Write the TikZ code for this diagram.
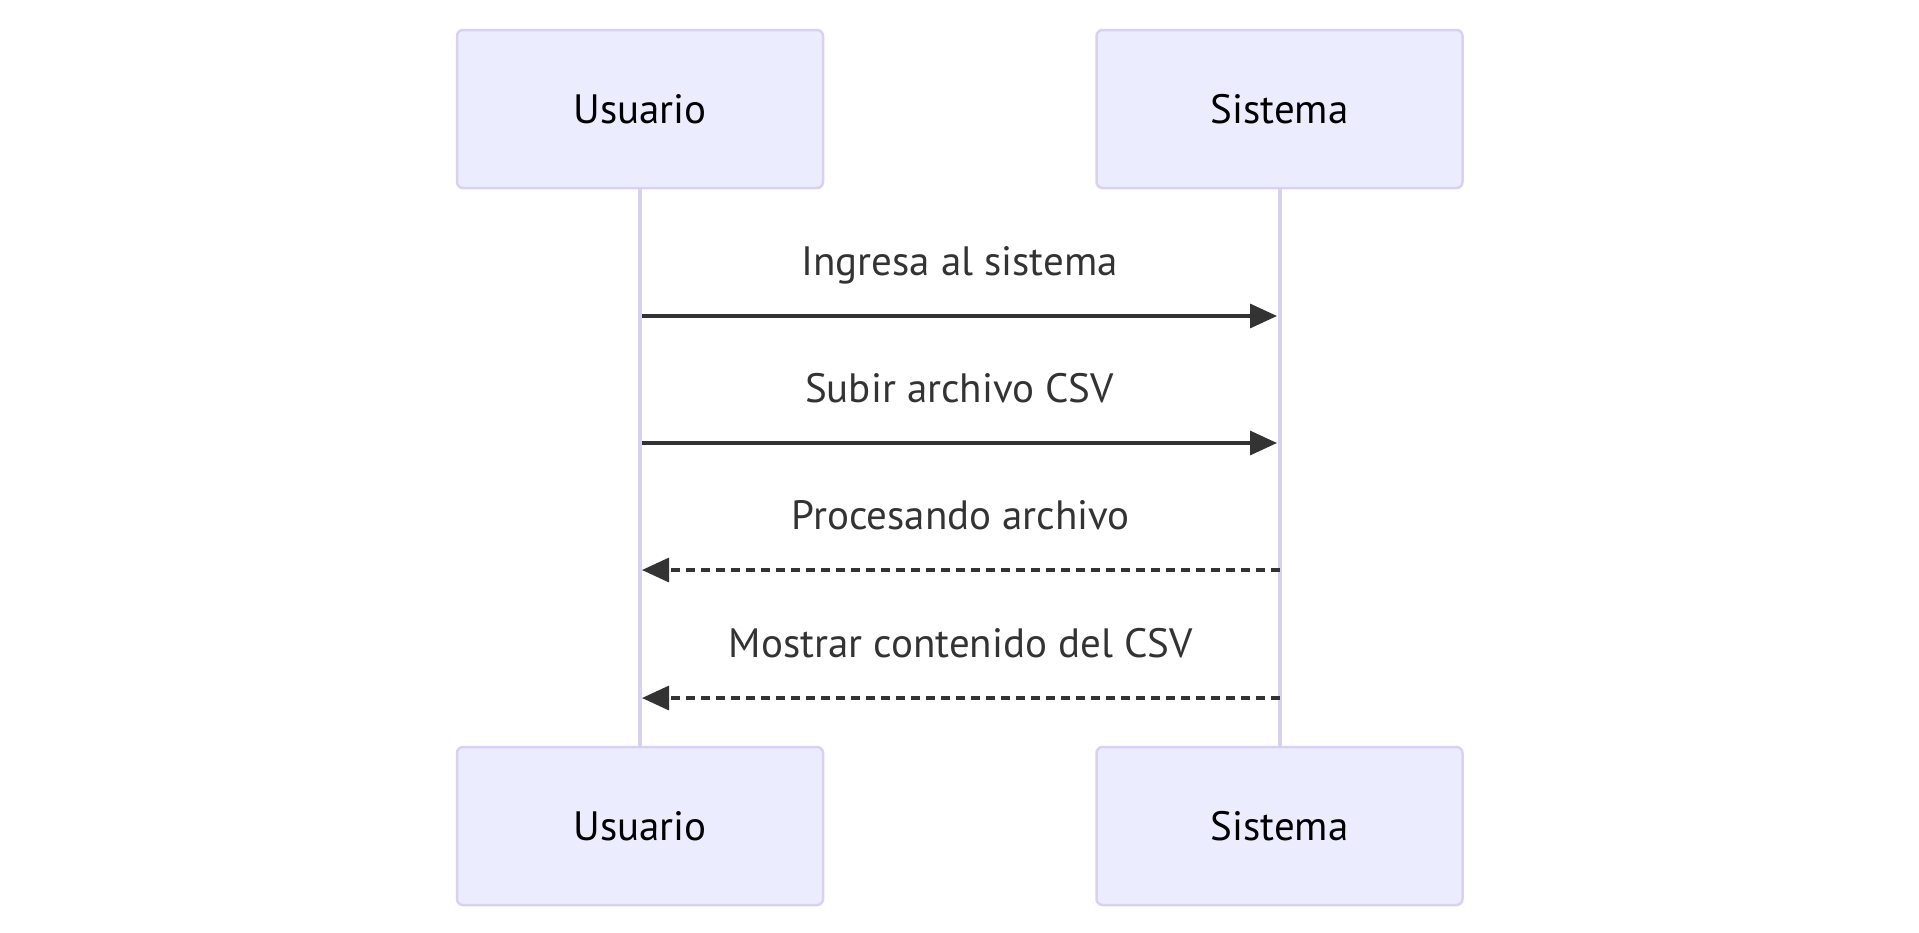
\documentclass[tikz,border=0pt]{standalone}
\usepackage{fontspec}
\setmainfont{PT Sans}
\usepackage{tikz}
\usetikzlibrary{arrows.meta,positioning}
\definecolor{actorfill}{HTML}{ECECFF}
\definecolor{actorline}{HTML}{DAD0F4}
\definecolor{msgline}{HTML}{333333}
\tikzset{
	actor/.style={draw=actorline, line width=2.5pt, fill=actorfill, rounded corners=6pt, minimum width=366pt, minimum height=158pt, font=\fontsize{41}{48}\selectfont, text=black},
	lifeline/.style={draw=actorline, line width=4pt},
	msg/.style={draw=msgline, line width=3.3pt, -{Triangle[length=27pt,width=24pt]}},
	reply/.style={msg, dash pattern=on 9pt off 6pt},
	msglabel/.style={font=\fontsize{41}{48}\selectfont, text=msgline, anchor=base, yshift=41pt}
}
\begin{document}
\begin{tikzpicture}[x=1pt,y=-1pt]
			\useasboundingbox (0,0) rectangle (1919,932);
			\node[actor] (usrtop) at (640,109) {Usuario};
			\node[actor] (systop) at (1279.5,109) {Sistema};
			\node[actor] (usrbot) at (640,826) {Usuario};
			\node[actor] (sysbot) at (1279.5,826) {Sistema};
			\draw[lifeline] (usrtop.south) -- (usrbot.north);
			\draw[lifeline] (systop.south) -- (sysbot.north);
			% message points on the lifelines
			\coordinate (u1) at (642,316);
			\coordinate (s1) at (1277,316);
			\coordinate (u2) at (642,443);
			\coordinate (s2) at (1277,443);
			\coordinate (u3) at (642,570);
			\coordinate (s3) at (systop |- 0,570);
			\coordinate (u4) at (642,698);
			\coordinate (s4) at (systop |- 0,698);
			\draw[msg] (u1) -- node[msglabel]{Ingresa al sistema} (s1);
			\draw[msg] (u2) -- node[msglabel]{Subir archivo CSV} (s2);
			\draw[reply] (s3) -- node[msglabel]{Procesando archivo} (u3);
			\draw[reply] (s4) -- node[msglabel]{Mostrar contenido del CSV} (u4);
\end{tikzpicture}
\end{document}
